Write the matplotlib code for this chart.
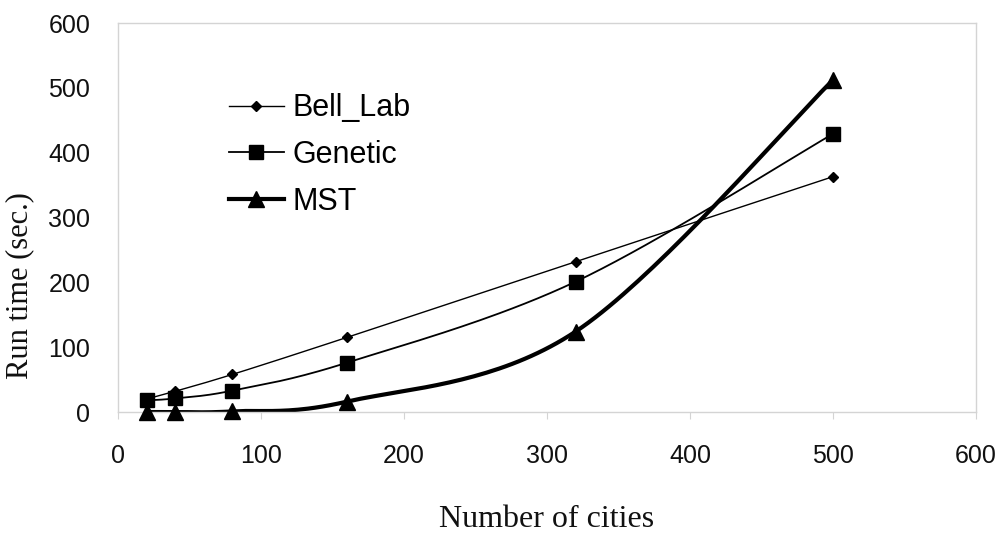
"""
Run time vs. number of cities for three TSP heuristics (Bell_Lab, Genetic, MST).
Curves are drawn Excel-style: smoothed with a Catmull-Rom / Bezier pass through the points.
"""
import numpy as np
import matplotlib
matplotlib.use('Agg')
import matplotlib.pyplot as plt

# Data
cities = [20, 40, 80, 160, 320, 500]
bell_lab = [20, 32, 58, 115, 232, 363]
genetic = [18, 21, 33, 76, 201, 429]
mst = [0, 0, 1, 16, 124, 512]


def smooth_curve(xs, ys, n=40):
    """Bezier curve through the points with Catmull-Rom tangents (like Excel's smoothed line)."""
    pts = np.column_stack([xs, ys]).astype(float)
    out = [pts[:1]]
    for i in range(len(pts) - 1):
        p0 = pts[max(i - 1, 0)]
        p1 = pts[i]
        p2 = pts[i + 1]
        p3 = pts[min(i + 2, len(pts) - 1)]
        c1 = p1 + (p2 - p0) / 6.0
        c2 = p2 - (p3 - p1) / 6.0
        t = np.linspace(0, 1, n)[1:, None]
        seg = ((1 - t) ** 3) * p1 + 3 * ((1 - t) ** 2) * t * c1 + 3 * (1 - t) * t ** 2 * c2 + t ** 3 * p2
        out.append(seg)
    curve = np.vstack(out)
    return curve[:, 0], curve[:, 1]


fig = plt.figure(figsize=(10.04, 5.36), dpi=100)
ax = fig.add_axes([0.1175, 0.2313, 0.8545, 0.7257])

series = [
    ('Bell_Lab', bell_lab, 'D', 5, 1.0),
    ('Genetic', genetic, 's', 10, 1.3),
    ('MST', mst, '^', 11, 3.0),
]
for name, vals, marker, msize, lw in series:
    sx, sy = smooth_curve(cities, vals)
    ax.plot(sx, sy, color='black', lw=lw, solid_capstyle='round')
    ax.plot(cities, vals, linestyle='none', marker=marker, markersize=msize,
            color='black', clip_on=False, zorder=3)
    # legend proxy with line + marker
    ax.plot([], [], color='black', lw=lw, marker=marker, markersize=msize, label=name)

ax.set_xlim(0, 600)
ax.set_ylim(0, 600)
ax.set_xticks(range(0, 601, 100))
ax.set_yticks(range(0, 601, 100))

for sp in ax.spines.values():
    sp.set_color('#d4d4d4')
    sp.set_linewidth(1.0)
ax.tick_params(axis='x', direction='out', length=5, color='#d4d4d4', pad=18,
               labelsize=18, labelcolor='#111111')
ax.tick_params(axis='y', direction='out', length=0, color='#d4d4d4', pad=20,
               labelsize=18, labelcolor='#111111')
for lbl in ax.get_xticklabels() + ax.get_yticklabels():
    lbl.set_fontfamily('Liberation Sans')

ax.set_xlabel('Number of cities', fontsize=23, fontfamily='Liberation Serif', color='#111111')
ax.xaxis.set_label_coords(0.5, -0.24)
ax.set_ylabel('Run time (sec.)', fontsize=22, fontfamily='Liberation Serif', color='#111111')
ax.yaxis.set_label_coords(-0.098, 0.326)

leg = ax.legend(loc='upper left', bbox_to_anchor=(0.097, 0.89), frameon=False,
                prop={'family': 'Liberation Sans', 'size': 22}, handlelength=1.8,
                handletextpad=0.3, labelspacing=0.55)

fig.savefig('out.png', dpi=100)
